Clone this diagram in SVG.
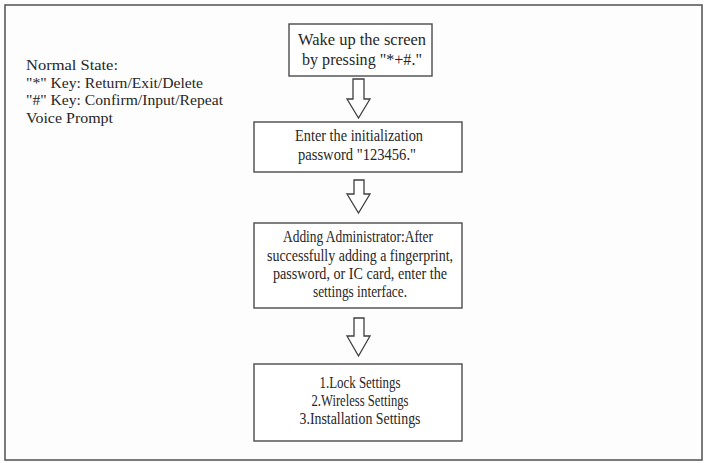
<svg xmlns="http://www.w3.org/2000/svg" width="704" height="463" viewBox="0 0 704 463">
  <style>
    .bg { fill: #fdfdfd; }
    .frame { fill: none; stroke: #5a5a5a; stroke-width: 1.6; }
    .box { fill: #ffffff; stroke: #4a4a4a; stroke-width: 1.4; }
    .arrow { fill: #ffffff; stroke: #3f3f3f; stroke-width: 1.3; stroke-linejoin: miter; }
    .t { font-family: "Liberation Serif", "Times New Roman", serif; fill: #262626; }
    .c { text-anchor: middle; }
  </style>
  <rect class="bg" x="0" y="0" width="704" height="463"/>
  <rect class="frame" x="5" y="5" width="697" height="455"/>

  <g id="legend">
    <text class="t" x="26" y="70" font-size="15.5" textLength="92" lengthAdjust="spacingAndGlyphs">Normal State:</text>
    <text class="t" x="26" y="87.5" font-size="15.5" textLength="177" lengthAdjust="spacingAndGlyphs">"*" Key: Return/Exit/Delete</text>
    <text class="t" x="26" y="105" font-size="15.5" textLength="197" lengthAdjust="spacingAndGlyphs">"#" Key: Confirm/Input/Repeat</text>
    <text class="t" x="26" y="122.5" font-size="15.5" textLength="87" lengthAdjust="spacingAndGlyphs">Voice Prompt</text>
  </g>

  <g id="node-wake">
    <rect class="box" x="289" y="24" width="143" height="52"/>
    <text class="t c" x="362" y="45" font-size="17" textLength="128" lengthAdjust="spacingAndGlyphs">Wake up the screen</text>
    <text class="t c" x="362" y="65" font-size="17" textLength="120" lengthAdjust="spacingAndGlyphs">by pressing "*+#."</text>
  </g>

  <g id="node-password">
    <rect class="box" x="254" y="122" width="208" height="50"/>
    <text class="t c" x="359" y="141" font-size="17" textLength="128" lengthAdjust="spacingAndGlyphs">Enter the initialization</text>
    <text class="t c" x="357" y="160" font-size="17" textLength="118" lengthAdjust="spacingAndGlyphs">password "123456."</text>
  </g>

  <g id="node-admin">
    <rect class="box" x="254" y="223" width="208" height="85"/>
    <text class="t c" x="358" y="242" font-size="16" textLength="150" lengthAdjust="spacingAndGlyphs">Adding Administrator:After</text>
    <text class="t c" x="360" y="261" font-size="16" textLength="186" lengthAdjust="spacingAndGlyphs">successfully adding a fingerprint,</text>
    <text class="t c" x="360" y="279" font-size="16" textLength="174" lengthAdjust="spacingAndGlyphs">password, or IC card, enter the</text>
    <text class="t c" x="360" y="297" font-size="16" textLength="94" lengthAdjust="spacingAndGlyphs">settings interface.</text>
  </g>

  <g id="node-settings">
    <rect class="box" x="254" y="364" width="208" height="77"/>
    <text class="t c" x="360" y="388" font-size="16" textLength="81" lengthAdjust="spacingAndGlyphs">1.Lock Settings</text>
    <text class="t c" x="360" y="406" font-size="16" textLength="97" lengthAdjust="spacingAndGlyphs">2.Wireless Settings</text>
    <text class="t c" x="360" y="424" font-size="16" textLength="121" lengthAdjust="spacingAndGlyphs">3.Installation Settings</text>
  </g>

  <g id="connectors">
    <polygon class="arrow" points="353,79 364,79 364,99 370,99 358.5,118 347,99 353,99"/>
    <polygon class="arrow" points="354,180 364,180 364,194 370,194 358.5,213 347,194 354,194"/>
    <polygon class="arrow" points="354,318 364,318 364,336 370,336 358.5,356 347,336 354,336"/>
  </g>
</svg>
